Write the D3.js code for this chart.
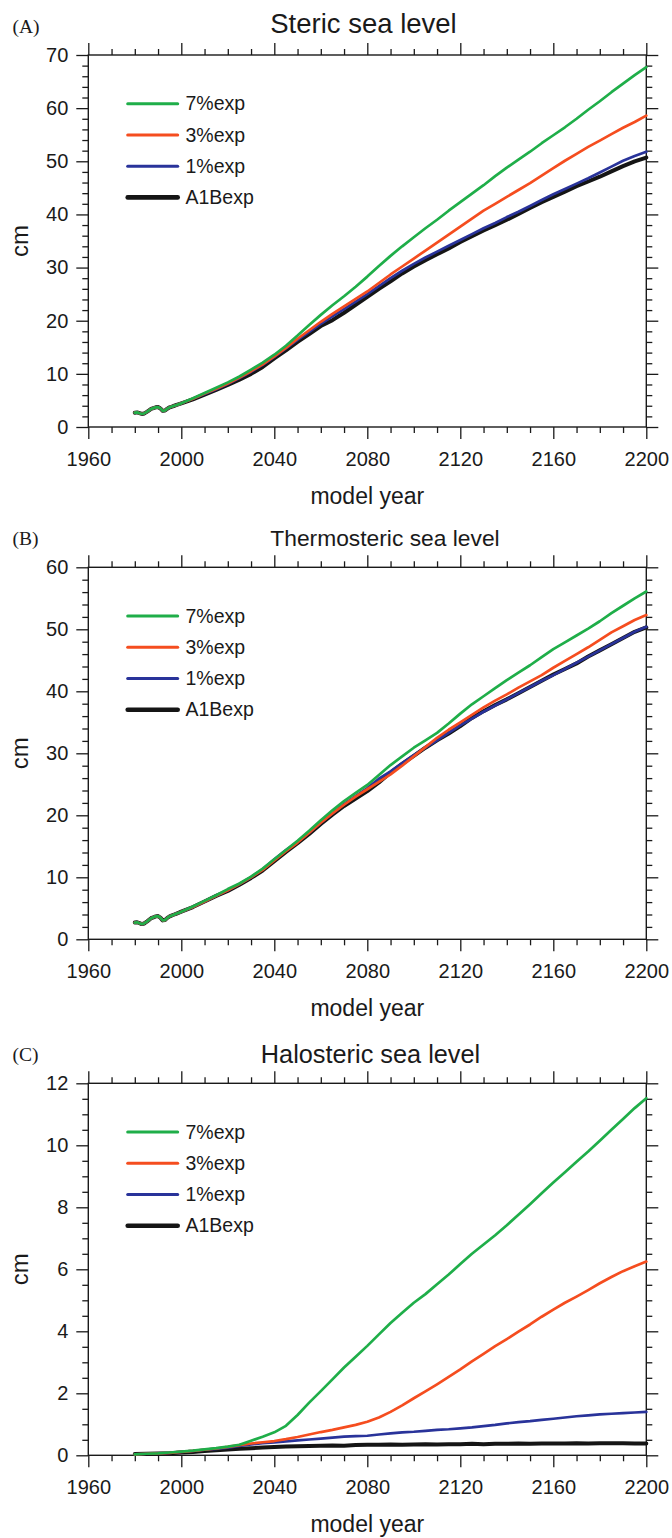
<!DOCTYPE html>
<html>
<head>
<meta charset="utf-8">
<script src="https://cdn.jsdelivr.net/npm/d3@7/dist/d3.min.js"></script>
<style>
  html, body { margin: 0; padding: 0; background: #fff; }
  svg { display: block; }
</style>
</head>
<body>
<svg id="chart" width="672" height="1538"></svg>
<script>
// ---------------- DATA ----------------
const earlyYears = [1980,1981,1982,1983,1984,1985,1986,1987,1988,1989,1990,1991,1992,1993,1994,1995,1996,1997,1998,1999,2000];
const lateYears = [2005,2010,2015,2020,2025,2030,2035,2040,2045,2050,2055,2060,2065,2070,2075,2080,2085,2090,2095,2100,
                   2105,2110,2115,2120,2125,2130,2135,2140,2145,2150,2155,2160,2165,2170,2175,2180,2185,2190,2195,2200];
const yearsC = [1980,1985,1990,1995,2000,2005,2010,2015,2020,2025,2030,2035,2040,2045,2050,2055,2060,2065,2070,2075,2080,2085,2090,2095,2100,
                2105,2110,2115,2120,2125,2130,2135,2140,2145,2150,2155,2160,2165,2170,2175,2180,2185,2190,2195,2200];

// shared early part (1980-2000) of the steric and thermosteric curves
const earlyStericThermo = [2.7,2.75,2.6,2.45,2.55,2.8,3.1,3.4,3.55,3.7,3.75,3.5,3.05,3.1,3.45,3.7,3.85,4.0,4.15,4.3,4.45];

// (A) Steric sea level, 2005-2200
const stericGreen  = [5.4,6.4,7.4,8.4,9.5,10.8,12.1,13.6,15.3,17.2,19.2,21.1,22.9,24.6,26.4,28.3,30.3,32.2,34.0,35.7,
                      37.4,39.0,40.7,42.3,43.9,45.5,47.2,48.8,50.3,51.8,53.4,54.9,56.4,58.0,59.7,61.3,63.0,64.6,66.2,67.7];
const stericOrange = [5.3,6.3,7.2,8.2,9.3,10.5,11.8,13.3,14.9,16.6,18.2,19.8,21.3,22.7,24.1,25.5,27.1,28.7,30.2,31.7,
                      33.2,34.7,36.2,37.7,39.2,40.7,42.0,43.3,44.6,45.9,47.3,48.7,50.1,51.4,52.7,53.9,55.1,56.3,57.4,58.6];
const stericBlue   = [5.3,6.2,7.1,8.1,9.2,10.4,11.7,13.2,14.8,16.4,17.9,19.4,20.8,22.2,23.6,25.0,26.5,28.0,29.4,30.7,
                      31.9,33.0,34.1,35.2,36.3,37.4,38.4,39.5,40.5,41.6,42.7,43.8,44.8,45.8,46.8,47.9,49.0,50.1,51.0,51.8];
const stericBlack  = [5.2,6.1,7.0,7.9,8.9,10.0,11.3,12.9,14.4,16.0,17.5,19.0,20.1,21.5,23.0,24.5,26.0,27.4,28.9,30.2,
                      31.4,32.5,33.6,34.8,35.9,37.0,38.0,39.0,40.1,41.2,42.3,43.3,44.3,45.3,46.2,47.1,48.1,49.1,50.0,50.7];

// (B) Thermosteric sea level, 2005-2200
const thermoGreen  = [5.3,6.2,7.1,8.1,9.0,10.1,11.4,12.9,14.4,15.9,17.5,19.2,20.8,22.3,23.6,24.9,26.5,28.1,29.5,30.9,
                      32.1,33.3,34.8,36.4,37.9,39.2,40.5,41.8,43.0,44.2,45.5,46.8,47.9,49.0,50.1,51.3,52.6,53.8,55.0,56.1];
const thermoOrange = [5.2,6.1,7.0,7.9,8.9,10.0,11.2,12.7,14.2,15.6,17.2,18.8,20.3,21.7,23.0,24.2,25.4,26.6,28.0,29.5,
                      31.0,32.5,33.8,35.0,36.2,37.4,38.5,39.5,40.6,41.6,42.6,43.8,44.9,46.0,47.1,48.3,49.5,50.5,51.5,52.3];
const thermoBlue   = [5.2,6.1,7.0,7.9,8.9,10.0,11.3,12.9,14.4,15.7,17.2,18.8,20.3,21.8,23.1,24.4,25.9,27.1,28.4,29.7,
                      30.9,32.1,33.3,34.5,35.6,36.7,37.7,38.7,39.7,40.7,41.7,42.6,43.6,44.6,45.6,46.6,47.6,48.6,49.6,50.4];
const thermoBlack  = [5.2,6.1,7.0,7.8,8.8,9.9,11.1,12.6,14.1,15.5,17.0,18.6,20.1,21.5,22.7,23.9,25.3,26.9,28.3,29.6,
                      30.9,32.1,33.2,34.4,35.7,36.8,37.8,38.7,39.7,40.7,41.7,42.7,43.6,44.5,45.6,46.6,47.6,48.6,49.6,50.3];

// (C) Halosteric sea level, 1980-2200
const haloGreen  = [0.03,0.05,0.06,0.09,0.12,0.15,0.19,0.23,0.28,0.34,0.47,0.60,0.74,0.95,1.30,1.70,2.07,2.45,2.83,3.18,3.53,3.90,4.27,4.60,4.92,
                    5.20,5.52,5.83,6.17,6.50,6.80,7.10,7.42,7.76,8.10,8.45,8.80,9.13,9.47,9.80,10.15,10.50,10.85,11.20,11.52];
const haloOrange = [0.03,0.05,0.06,0.08,0.11,0.14,0.18,0.22,0.27,0.33,0.38,0.42,0.46,0.52,0.59,0.67,0.75,0.82,0.90,0.98,1.08,1.22,1.40,1.61,1.84,
                    2.06,2.29,2.53,2.77,3.03,3.27,3.52,3.75,3.99,4.22,4.47,4.70,4.92,5.12,5.33,5.55,5.75,5.94,6.10,6.25];
const haloBlue   = [0.03,0.05,0.06,0.08,0.11,0.14,0.18,0.21,0.25,0.30,0.35,0.39,0.42,0.45,0.48,0.51,0.54,0.57,0.60,0.62,0.63,0.67,0.71,0.74,0.76,
                    0.79,0.82,0.84,0.87,0.90,0.94,0.98,1.03,1.07,1.10,1.14,1.18,1.22,1.26,1.29,1.32,1.34,1.36,1.38,1.40];
const haloBlack  = [0.04,0.05,0.06,0.07,0.09,0.11,0.14,0.16,0.19,0.21,0.23,0.25,0.27,0.28,0.29,0.30,0.31,0.32,0.31,0.33,0.34,0.34,0.35,0.34,0.35,
                    0.36,0.35,0.36,0.36,0.37,0.36,0.37,0.37,0.38,0.37,0.38,0.38,0.38,0.39,0.38,0.39,0.39,0.39,0.38,0.38];

const seriesNames = ["7%exp", "3%exp", "1%exp", "A1Bexp"];
const panelTitles = ["Steric sea level", "Thermosteric sea level", "Halosteric sea level"];
const panelLetters = ["(A)", "(B)", "(C)"];
const xTicksMajor = [1960, 2000, 2040, 2080, 2120, 2160, 2200];
const yDomains = [[0, 70], [0, 60], [0, 12]];
const yMajorSteps = [10, 10, 2];
const yMinorSteps = [2, 2, 0.5];
const xLabel = "model year";
const yLabel = "cm";

// ---------------- STYLE / LAYOUT ----------------
const colors = { "7%exp": "#1fae49", "3%exp": "#f54d1f", "1%exp": "#29339a", "A1Bexp": "#151515" };
const widths = { "7%exp": 2.7, "3%exp": 2.7, "1%exp": 2.7, "A1Bexp": 4.0 };
const legendWidths = { "7%exp": 3.0, "3%exp": 3.0, "1%exp": 3.0, "A1Bexp": 4.6 };
const axisColor = "#1a1a1a";
const sans = "'Liberation Sans', Arial, Helvetica, sans-serif";
const serif = "'Liberation Serif', 'Times New Roman', serif";

const left = 88.3, right = 646.3, plotH = 372;
const tops = [55, 567.3, 1083.3];
const titleLayout = [
  { x: 363.5, y: 33, size: 27.5 },
  { x: 385, y: 546, size: 22.8 },
  { x: 370.5, y: 1062.5, size: 25.3 }
];

// build series tables
const yearsAB = earlyYears.concat(lateYears);
const panelsData = [
  [
    { name: "A1Bexp", years: yearsAB, values: earlyStericThermo.concat(stericBlack) },
    { name: "1%exp",  years: yearsAB, values: earlyStericThermo.concat(stericBlue) },
    { name: "3%exp",  years: yearsAB, values: earlyStericThermo.concat(stericOrange) },
    { name: "7%exp",  years: yearsAB, values: earlyStericThermo.concat(stericGreen) }
  ],
  [
    { name: "A1Bexp", years: yearsAB, values: earlyStericThermo.concat(thermoBlack) },
    { name: "1%exp",  years: yearsAB, values: earlyStericThermo.concat(thermoBlue) },
    { name: "3%exp",  years: yearsAB, values: earlyStericThermo.concat(thermoOrange) },
    { name: "7%exp",  years: yearsAB, values: earlyStericThermo.concat(thermoGreen) }
  ],
  [
    { name: "A1Bexp", years: yearsC, values: haloBlack },
    { name: "1%exp",  years: yearsC, values: haloBlue },
    { name: "3%exp",  years: yearsC, values: haloOrange },
    { name: "7%exp",  years: yearsC, values: haloGreen }
  ]
];

const svg = d3.select("#chart");
const x = d3.scaleLinear().domain([1960, 2200]).range([left, right]);
const xMinor = d3.range(1960, 2201, 10).filter(v => !xTicksMajor.includes(v));

function styleAxis(g, labelSize) {
  g.select(".domain").remove();
  g.selectAll(".tick line").attr("stroke", axisColor).attr("stroke-width", 1.3);
  g.selectAll(".tick text").attr("fill", axisColor)
    .style("font-family", sans).style("font-size", labelSize + "px");
}

panelsData.forEach((series, pi) => {
  const top = tops[pi], bottom = top + plotH;
  const [y0, y1] = yDomains[pi];
  const y = d3.scaleLinear().domain([y0, y1]).range([bottom, top]);
  const yMaj = d3.range(y0, y1 + 1e-9, yMajorSteps[pi]);
  const yMin = d3.range(y0, y1 + 1e-9, yMinorSteps[pi]).filter(v => !yMaj.some(m => Math.abs(m - v) < 1e-9));
  const g = svg.append("g");

  // bottom axis (labelled)
  g.append("g").attr("transform", `translate(0,${bottom})`)
    .call(d3.axisBottom(x).tickValues(xTicksMajor).tickSize(12).tickPadding(13).tickFormat(d3.format("d")))
    .call(a => styleAxis(a, 20));
  g.append("g").attr("transform", `translate(0,${bottom})`)
    .call(d3.axisBottom(x).tickValues(xMinor).tickSize(6).tickFormat(""))
    .call(a => styleAxis(a, 20));
  // top axis
  g.append("g").attr("transform", `translate(0,${top})`)
    .call(d3.axisTop(x).tickValues(xTicksMajor).tickSize(12).tickFormat(""))
    .call(a => styleAxis(a, 20));
  g.append("g").attr("transform", `translate(0,${top})`)
    .call(d3.axisTop(x).tickValues(xMinor).tickSize(6).tickFormat(""))
    .call(a => styleAxis(a, 20));
  // left axis (labelled)
  g.append("g").attr("transform", `translate(${left},0)`)
    .call(d3.axisLeft(y).tickValues(yMaj).tickSize(12).tickPadding(8).tickFormat(d3.format("d")))
    .call(a => styleAxis(a, 20));
  g.append("g").attr("transform", `translate(${left},0)`)
    .call(d3.axisLeft(y).tickValues(yMin).tickSize(6).tickFormat(""))
    .call(a => styleAxis(a, 20));
  // right axis
  g.append("g").attr("transform", `translate(${right},0)`)
    .call(d3.axisRight(y).tickValues(yMaj).tickSize(12).tickFormat(""))
    .call(a => styleAxis(a, 20));
  g.append("g").attr("transform", `translate(${right},0)`)
    .call(d3.axisRight(y).tickValues(yMin).tickSize(6).tickFormat(""))
    .call(a => styleAxis(a, 20));

  // frame
  g.append("rect").attr("x", left).attr("y", top).attr("width", right - left).attr("height", plotH)
    .attr("fill", "none").attr("stroke", axisColor).attr("stroke-width", 1.4);

  // lines
  const line = d3.line().x(d => x(d[0])).y(d => y(d[1]));
  series.forEach(s => {
    const pts = s.years.map((yr, i) => [yr, s.values[i]]);
    g.append("path").datum(pts)
      .attr("d", line)
      .attr("fill", "none")
      .attr("stroke", colors[s.name])
      .attr("stroke-width", widths[s.name])
      .attr("stroke-linejoin", "round")
      .attr("stroke-linecap", "round");
  });

  // legend
  seriesNames.forEach((name, i) => {
    const ly = top + 48.8 + i * 31.2;
    g.append("line").attr("x1", 127.7).attr("x2", 177.7).attr("y1", ly).attr("y2", ly)
      .attr("stroke", colors[name]).attr("stroke-width", legendWidths[name]).attr("stroke-linecap", "round");
    g.append("text").attr("x", 185.5).attr("y", ly + 6.6)
      .attr("fill", axisColor).style("font-family", sans).style("font-size", "19.5px")
      .text(name);
  });

  // title
  g.append("text").attr("x", titleLayout[pi].x).attr("y", titleLayout[pi].y)
    .attr("text-anchor", "middle").attr("fill", axisColor)
    .style("font-family", sans).style("font-size", titleLayout[pi].size + "px")
    .text(panelTitles[pi]);
  // panel letter
  g.append("text").attr("x", 12.5).attr("y", top - 22)
    .attr("fill", axisColor).style("font-family", serif).style("font-size", "19.5px")
    .text(panelLetters[pi]);
  // x label
  g.append("text").attr("x", (left + right) / 2).attr("y", bottom + 77)
    .attr("text-anchor", "middle").attr("fill", axisColor)
    .style("font-family", sans).style("font-size", "23px")
    .text(xLabel);
  // y label
  g.append("text").attr("transform", `translate(28,${top + plotH / 2}) rotate(-90)`)
    .attr("text-anchor", "middle").attr("fill", axisColor)
    .style("font-family", sans).style("font-size", "24px")
    .text(yLabel);
});
</script>
</body>
</html>
